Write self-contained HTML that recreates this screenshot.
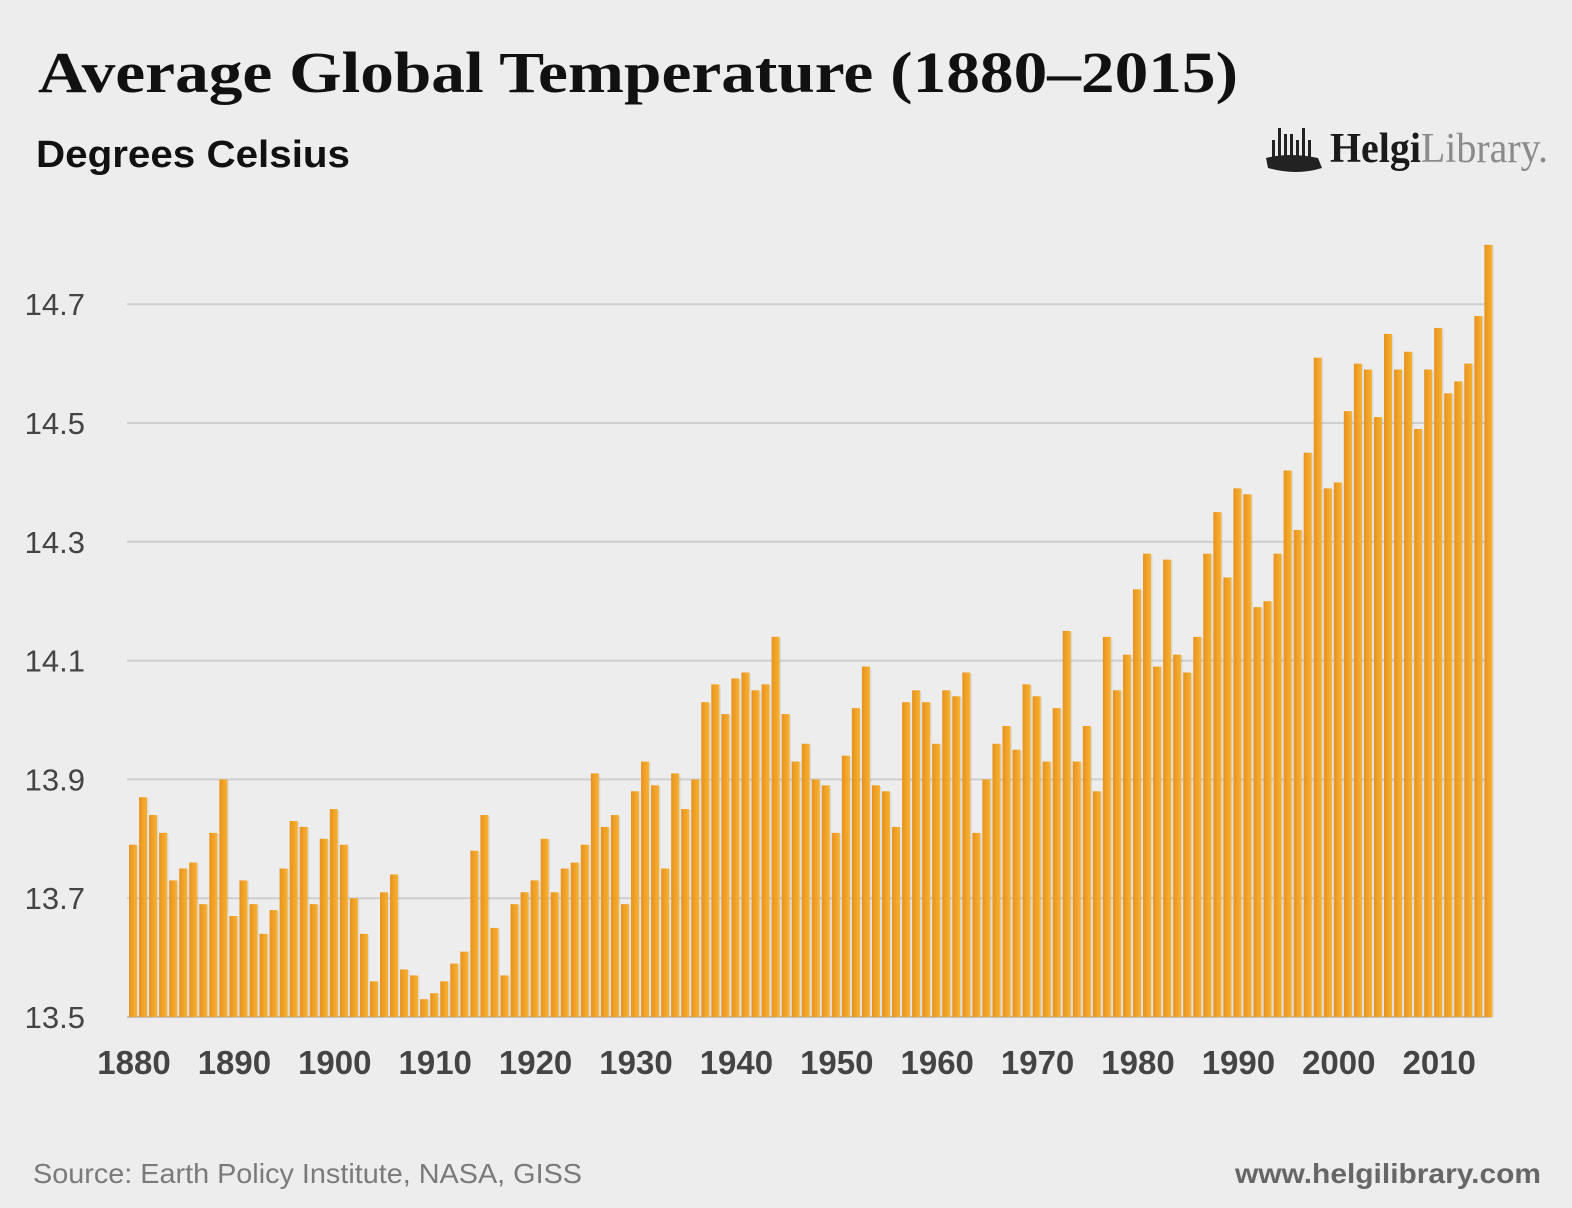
<!DOCTYPE html>
<html><head><meta charset="utf-8"><style>
html,body{margin:0;padding:0;background:#ededed;}
svg{display:block;}
</style></head><body>
<svg id="chart" width="1572" height="1208" viewBox="0 0 1572 1208" xmlns="http://www.w3.org/2000/svg">
<defs>
<linearGradient id="barg" x1="0" x2="1" y1="0" y2="0">
<stop offset="0" stop-color="#e8921e"/><stop offset="1" stop-color="#f7b232"/>
</linearGradient>
</defs>
<rect width="1572" height="1208" fill="#ededed"/>
<text x="38" y="92" font-family="Liberation Serif, serif" font-weight="bold" font-size="58" fill="#111" textLength="1200" lengthAdjust="spacingAndGlyphs">Average Global Temperature (1880–2015)</text>
<text x="36" y="167" font-family="Liberation Sans, sans-serif" font-weight="bold" font-size="38" fill="#111" textLength="314" lengthAdjust="spacingAndGlyphs">Degrees Celsius</text>
<g>
<g fill="#222">
<rect x="1272" y="140" width="3" height="18"/><rect x="1278" y="128" width="3" height="30"/><rect x="1284" y="134" width="3" height="24"/><rect x="1290" y="134" width="3" height="24"/><rect x="1296" y="140" width="3" height="18"/><rect x="1302" y="128" width="3" height="30"/><rect x="1308" y="140" width="3" height="18"/>
<path d="M1266 158 Q1290 152 1318 158 L1322 168 Q1296 176 1268 168 Z"/>
</g>
<text x="1330" y="162" font-family="Liberation Serif, serif" font-size="42" textLength="218" lengthAdjust="spacingAndGlyphs"><tspan fill="#1a1a1a" font-weight="bold">Helgi</tspan><tspan fill="#8a8a8a">Library.</tspan></text>
</g>
<g id="grid"></g>
<g id="yticks"></g>
<g id="bars"></g>
<g id="xticks"></g>
<text x="33" y="1183" font-family="Liberation Sans, sans-serif" font-size="28" fill="#7a7a7a" textLength="549" lengthAdjust="spacingAndGlyphs">Source: Earth Policy Institute, NASA, GISS</text>
<text x="1235" y="1183" font-family="Liberation Sans, sans-serif" font-weight="bold" font-size="28" fill="#666" textLength="306" lengthAdjust="spacingAndGlyphs">www.helgilibrary.com</text>
</svg>
<script>
const startYear = 1880;
const temps = [13.79,13.87,13.84,13.81,13.73,13.75,13.76,13.69,13.81,13.90,
13.67,13.73,13.69,13.64,13.68,13.75,13.83,13.82,13.69,13.80,
13.85,13.79,13.70,13.64,13.56,13.71,13.74,13.58,13.57,13.53,
13.54,13.56,13.59,13.61,13.78,13.84,13.65,13.57,13.69,13.71,
13.73,13.80,13.71,13.75,13.76,13.79,13.91,13.82,13.84,13.69,
13.88,13.93,13.89,13.75,13.91,13.85,13.90,14.03,14.06,14.01,
14.07,14.08,14.05,14.06,14.14,14.01,13.93,13.96,13.90,13.89,
13.81,13.94,14.02,14.09,13.89,13.88,13.82,14.03,14.05,14.03,
13.96,14.05,14.04,14.08,13.81,13.90,13.96,13.99,13.95,14.06,
14.04,13.93,14.02,14.15,13.93,13.99,13.88,14.14,14.05,14.11,
14.22,14.28,14.09,14.27,14.11,14.08,14.14,14.28,14.35,14.24,
14.39,14.38,14.19,14.20,14.28,14.42,14.32,14.45,14.61,14.39,
14.40,14.52,14.60,14.59,14.51,14.65,14.59,14.62,14.49,14.59,
14.66,14.55,14.57,14.60,14.68,14.80];
const yTicks = [13.5,13.7,13.9,14.1,14.3,14.5,14.7];
const yTickLabels = ["13.5","13.7","13.9","14.1","14.3","14.5","14.7"];
const xTickYears = [1880,1890,1900,1910,1920,1930,1940,1950,1960,1970,1980,1990,2000,2010];

const NS = "http://www.w3.org/2000/svg";
const x0 = 129, step = 10.04, bw = 8;
function yScale(v){ return 1017 - (v - 13.5) * 594; }
function xScale(year){ return x0 + (year - startYear) * step; }
function mk(tag, attrs){ const e = document.createElementNS(NS, tag); for (const k in attrs) e.setAttribute(k, attrs[k]); return e; }

const grid = document.getElementById('grid');
const yt = document.getElementById('yticks');
yTicks.forEach((v, i) => {
  const y = yScale(v);
  const l = mk('line', {x1: 127, x2: 1492, y1: y, y2: y, stroke: i === 0 ? '#c4c4c4' : '#cfcfcf', 'stroke-width': 2});
  
  
  grid.appendChild(l);
  const t = mk('text', {x: 85, y: y + 11, 'text-anchor': 'end', 'font-family': 'Liberation Sans, sans-serif', 'font-size': 31, fill: '#444'});
  t.textContent = yTickLabels[i];
  
  
  yt.appendChild(t);
});

const bars = document.getElementById('bars');
temps.forEach((v, i) => {
  const x = xScale(startYear + i);
  const y = yScale(v);
  const sh = mk('rect', {x: x + 1.5, y: y + 1, width: bw, height: 1017 - y - 1, fill: '#000', opacity: 0.07});
  
  
  bars.appendChild(sh);
  const r = mk('rect', {x: x, y: y, width: bw, height: 1017 - y, fill: 'url(#barg)'});
  
  
  bars.appendChild(r);
});

const xt = document.getElementById('xticks');
xTickYears.forEach(yr => {
  const t = mk('text', {x: xScale(yr) + 5, y: 1074, 'text-anchor': 'middle', 'font-family': 'Liberation Sans, sans-serif', 'font-weight': 'bold', 'font-size': 33, fill: '#444'});
  t.textContent = String(yr);
  
  
  xt.appendChild(t);
});
</script>
</body></html>
